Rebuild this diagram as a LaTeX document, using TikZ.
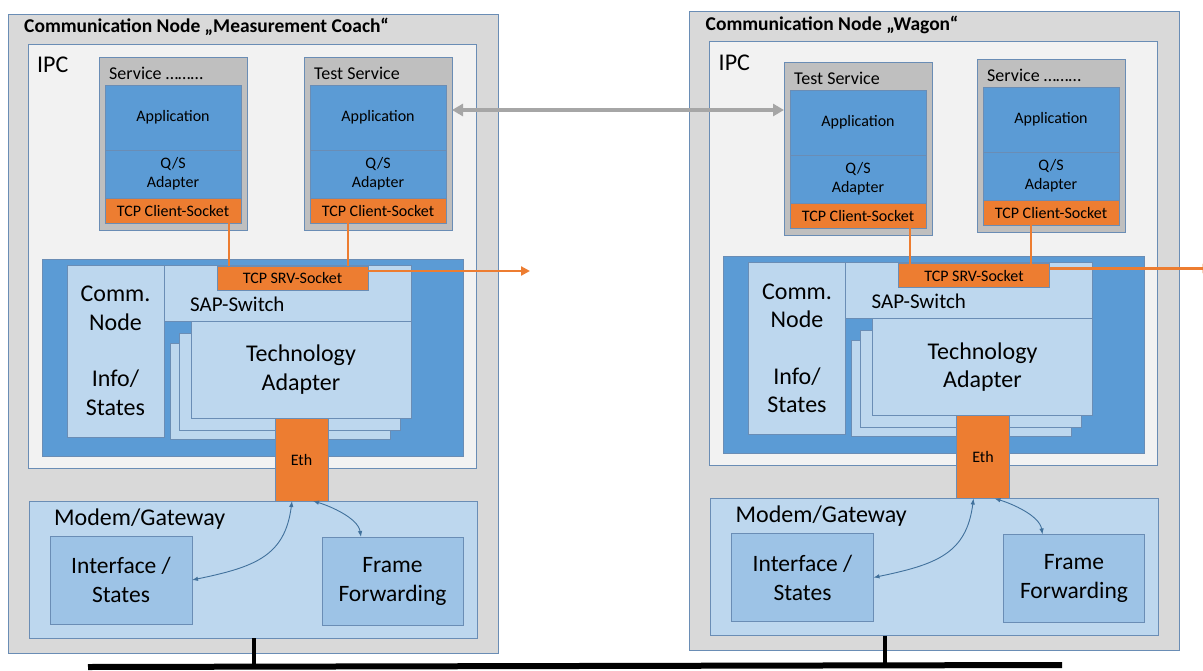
\documentclass[tikz,border=0pt]{standalone}
\usepackage{fontspec}
\setmainfont{Carlito}
\usepackage{tikz}
\usetikzlibrary{calc}
\usetikzlibrary{arrows.meta}

\definecolor{nodegray}{HTML}{D9D9D9}
\definecolor{ipcwhite}{HTML}{F2F2F2}
\definecolor{svcgray}{HTML}{BFBFBF}
\definecolor{appblue}{HTML}{5B9BD5}
\definecolor{lightblue}{HTML}{BDD7EE}
\definecolor{midblue}{HTML}{9DC3E6}
\definecolor{sockorange}{HTML}{ED7D31}
\definecolor{bordc}{HTML}{6A8DB5}
\definecolor{ctlblue}{HTML}{41719C}
\definecolor{peergray}{HTML}{A6A6A6}

\tikzset{
  sized/.style 2 args={minimum width=#1, minimum height=#2, anchor=north west},
  box/.style={draw=bordc, line width=0.8pt, inner sep=0pt, outer sep=0pt, align=center},
  outerbox/.style={box, fill=nodegray},
  ipcbox/.style={box, fill=ipcwhite},
  svcbox/.style={box, fill=svcgray},
  appbox/.style={box, fill=appblue, font=\fontsize{16}{19}\selectfont},
  sockbox/.style={box, fill=sockorange, font=\fontsize{16}{18}\selectfont},
  bluebox/.style={box, fill=appblue},
  lightbox/.style={box, fill=lightblue, font=\fontsize{24}{28.5}\selectfont},
  midbox/.style={box, fill=midblue, font=\fontsize{23.5}{29}\selectfont},
  cntitle/.style={anchor=west, inner sep=0pt, font=\bfseries\fontsize{19.5}{22}\selectfont},
  svctitle/.style={anchor=west, inner sep=0pt, font=\fontsize{18}{20}\selectfont},
  biglabel/.style={anchor=west, inner sep=0pt, font=\fontsize{24}{28}\selectfont},
  saplabel/.style={anchor=west, inner sep=0pt, font=\fontsize{21}{25}\selectfont},
  sockline/.style={draw=sockorange, line width=2.2pt},
  sockarrow/.style={sockline, -{Triangle[length=9pt,width=9pt]}},
  ctl/.style={draw=ctlblue, line width=0.9pt, {Latex[length=6pt,width=4.5pt]}-{Latex[length=6pt,width=4.5pt]}},
  peer/.style={draw=peergray, line width=3.2pt, {Triangle[length=11pt,width=12pt]}-{Triangle[length=11pt,width=12pt]}},
  bus/.style={draw=black, line width=6pt},
  stub/.style={draw=black, line width=4pt}
}

\begin{document}
\begin{tikzpicture}[x=1pt,y=-1pt]
  \useasboundingbox[fill=white] (0,0) rectangle (1203,670);
  \foreach \n/\dx/\dy/\ttl in {A/0/0/{Measurement Coach},B/681.5/-2.5/Wagon}{
  \begin{scope}[shift={(\dx,\dy)}]
    \node[outerbox, sized={490}{639}] (cn\n) at (8,14) {};
    \node[cntitle] (cnt\n) at (24,27) {Communication Node „\ttl“};
    \node[ipcbox, sized={448}{424}] (ipc\n) at (28,44) {};
    \node[biglabel] (ipct\n) at (37,65) {IPC};
    \node[bluebox, sized={421}{197}] (blue\n) at (42,259) {};
    \node[lightbox, sized={97}{172}] (info\n) at (67,265) {Comm.\\Node\\[28pt]Info/\\States};
    \node[lightbox, sized={247}{56}] (sap\n) at (164,265) {};
    \node[saplabel] (sapt\n) at (190,304) {SAP-Switch};
    \node[lightbox, sized={220}{96}] (tc\n3) at (170,343) {};
    \node[lightbox, sized={221}{97}] (tc\n2) at (179,333) {};
    \node[lightbox, sized={220}{97}] (tc\n) at (191,321) {Technology\\Adapter};
    \node[sockbox, sized={151}{24}] (srv\n) at (217,266) {TCP SRV-Socket};
    \node[lightbox, sized={448}{137}] (mg\n) at (29,501) {};
    \node[biglabel] (mgt\n) at (54,519) {Modem/Gateway};
    \node[midbox, sized={142}{88}] (if\n) at (50,536) {Interface /\\States};
    \node[midbox, sized={141}{88}] (fr\n) at (322,537) {Frame\\Forwarding};
    \node[sockbox, sized={53}{83}] (eth\n) at (275,418) {Eth};
    \draw[ctl] ([xshift=17pt]eth\n.south west) .. controls +(-7,55) and +(63,-13) .. (if\n.east);
    \draw[ctl] ([xshift=38pt]eth\n.south west) .. controls +(17,5) and +(-3,-19) .. ([xshift=39pt]fr\n.north west);
    \draw[sockarrow] ([yshift=7pt]srv\n.east) -- ++(162,0) coordinate (out\n);
  \end{scope}}
  \foreach \s/\x/\y/\k/\f/\t in {A1/99/57/A/0.91/{Service ………},A2/304/57/A/0.28/{Test Service},
                                 B1/784/62/B/0.88/{Test Service},B2/977/59/B/0.35/{Service ………}}{
    \node[svcbox, sized={148}{173}] (svc\s) at (\x,\y) {};
    \node[svctitle] (svct\s) at (\x+10,\y+16) {\t};
    \node[appbox, sized={136}{65}] (app\s) at (\x+6,\y+28) {Application};
    \node[appbox, sized={136}{48}] (qs\s) at (\x+6,\y+93) {Q/S\\Adapter};
    \node[sockbox, sized={136}{25}] (tcp\s) at (\x+6,\y+141) {TCP Client-Socket};
    \draw[sockline] ($(tcp\s.south west)!\f!(tcp\s.south east)$) coordinate (p\s) -- (p\s |- srv\k.north);
  }
  \draw[peer] ([yshift=-53pt]svcA2.north east) coordinate (pa) -- (pa -| svcB1.west);
  \coordinate (busL) at (88,667);
  \coordinate (busR) at (1062,665);
  \draw[bus] (busL) -- (busR);
  \coordinate (sA) at ([xshift=225pt]mgA.south west);
  \coordinate (sB) at ([xshift=174pt]mgB.south west);
  \draw[stub] (sA) -- (sA |- busL);
  \draw[stub] (sB) -- (sB |- busR);
\end{tikzpicture}
\end{document}
